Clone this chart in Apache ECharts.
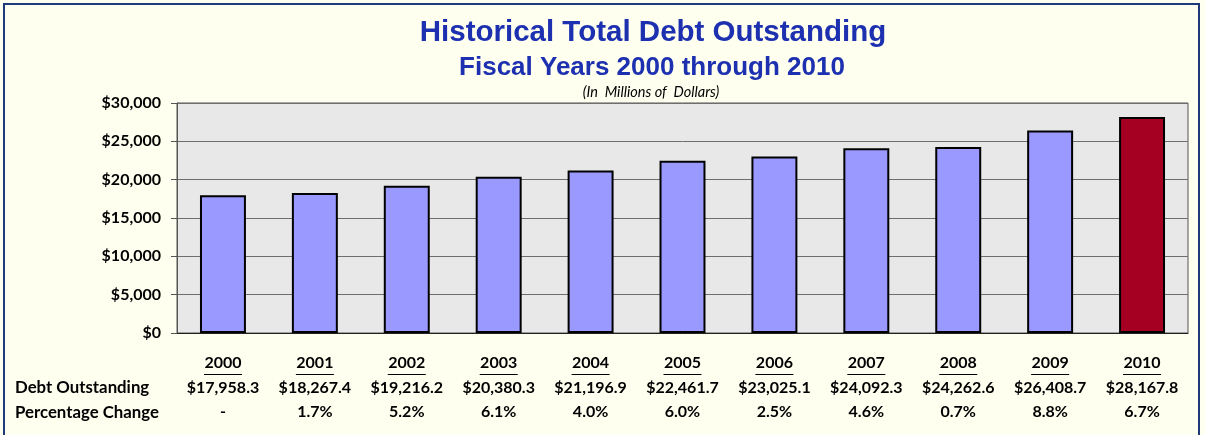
<!DOCTYPE html>
<html>
<head>
<meta charset="utf-8">
<script src="https://cdn.jsdelivr.net/npm/echarts@6/dist/echarts.min.js"></script>
<style>
  html, body { margin: 0; padding: 0; background: #FFFFF0; }
  #chart { width: 1205px; height: 435px; }
</style>
</head>
<body>
<div id="chart"></div>
<script>
const years = ['2000', '2001', '2002', '2003', '2004', '2005', '2006', '2007', '2008', '2009', '2010']
const debt = [17958.3, 18267.4, 19216.2, 20380.3, 21196.9, 22461.7, 23025.1, 24092.3, 24262.6, 26408.7, 28167.8]
const pctChange = ['-', '1.7%', '5.2%', '6.1%', '4.0%', '6.0%', '2.5%', '4.6%', '0.7%', '8.8%', '6.7%']

const barColor = '#9999FF'
const lastColor = '#A50021'
const titleColor = '#1C30B0'
const labelFont = 'Lato, "Open Sans", sans-serif'
const titleFont = '"Liberation Sans", Arial, sans-serif'

const money = v => '$' + v.toLocaleString('en-US', { minimumFractionDigits: 1, maximumFractionDigits: 1 })

const chart = echarts.init(document.getElementById('chart'))

// title texts sit a bit right of the canvas centre, like the original
function label(text, x, y, font, align) {
  return {
    type: 'text',
    x: x,
    y: y,
    silent: true,
    style: Object.assign({ text: text, align: align || 'center', verticalAlign: 'middle', fill: '#000' }, font)
  }
}

chart.setOption({
  backgroundColor: '#FFFFF0',
  animation: false,
  graphic: [
    {
      type: 'rect',
      shape: { x: 4, y: 4, width: 1195, height: 450 },
      style: { fill: 'none', stroke: '#1F3A7A', lineWidth: 2 },
      silent: true
    },
    label('Historical Total Debt Outstanding', 653, 33,
      { fontFamily: titleFont, fontWeight: 'bold', fontSize: 29.5, fill: titleColor }),
    label('Fiscal Years 2000 through 2010', 652, 68,
      { fontFamily: titleFont, fontWeight: 'bold', fontSize: 26, fill: titleColor }),
    label('(In  Millions of  Dollars)', 651, 92,
      { fontFamily: labelFont, fontStyle: 'italic', fontSize: 14.5 }),
    label('Debt Outstanding', 15, 388,
      { fontFamily: labelFont, fontWeight: 'bold', fontSize: 16.8 }, 'left'),
    label('Percentage Change', 15, 413,
      { fontFamily: labelFont, fontWeight: 'bold', fontSize: 16.8 }, 'left')
  ],
  grid: {
    left: 177,
    right: 17,
    top: 103,
    bottom: 102,
    show: true,
    backgroundColor: '#E8E8E8',
    borderColor: '#555',
    borderWidth: 1
  },
  xAxis: {
    type: 'category',
    data: years,
    axisLine: { lineStyle: { color: '#222', width: 1 } },
    axisTick: { show: false },
    axisLabel: {
      margin: 21,
      interval: 0,
      formatter: (val, i) => '{y|' + val + '}\n{u|}\n{v|' + money(debt[i]) + '}\n{p|' + pctChange[i] + '}',
      rich: {
        y: { fontFamily: labelFont, fontWeight: 'bold', fontSize: 16, color: '#000', lineHeight: 18 },
        u: { width: 38, height: 1, backgroundColor: '#000', lineHeight: 5 },
        v: { fontFamily: labelFont, fontWeight: 'bold', fontSize: 16, color: '#000', lineHeight: 22 },
        p: { fontFamily: labelFont, fontWeight: 'bold', fontSize: 16, color: '#000', lineHeight: 25 }
      }
    }
  },
  yAxis: {
    type: 'value',
    min: 0,
    max: 30000,
    interval: 5000,
    axisLine: { show: true, lineStyle: { color: '#555' } },
    axisTick: { show: true, length: 6, lineStyle: { color: '#555' } },
    axisLabel: {
      margin: 16,
      fontFamily: labelFont,
      fontWeight: 'bold',
      fontSize: 16,
      color: '#000',
      formatter: v => '$' + v.toLocaleString('en-US')
    },
    splitLine: { lineStyle: { color: '#6E6E6E', width: 1 } }
  },
  series: [{
    type: 'bar',
    barWidth: '50%',
    data: debt.map((v, i) => ({
      value: v,
      itemStyle: { color: i === debt.length - 1 ? lastColor : barColor }
    })),
    itemStyle: { borderColor: '#000', borderWidth: 2 }
  }]
})
</script>
</body>
</html>
